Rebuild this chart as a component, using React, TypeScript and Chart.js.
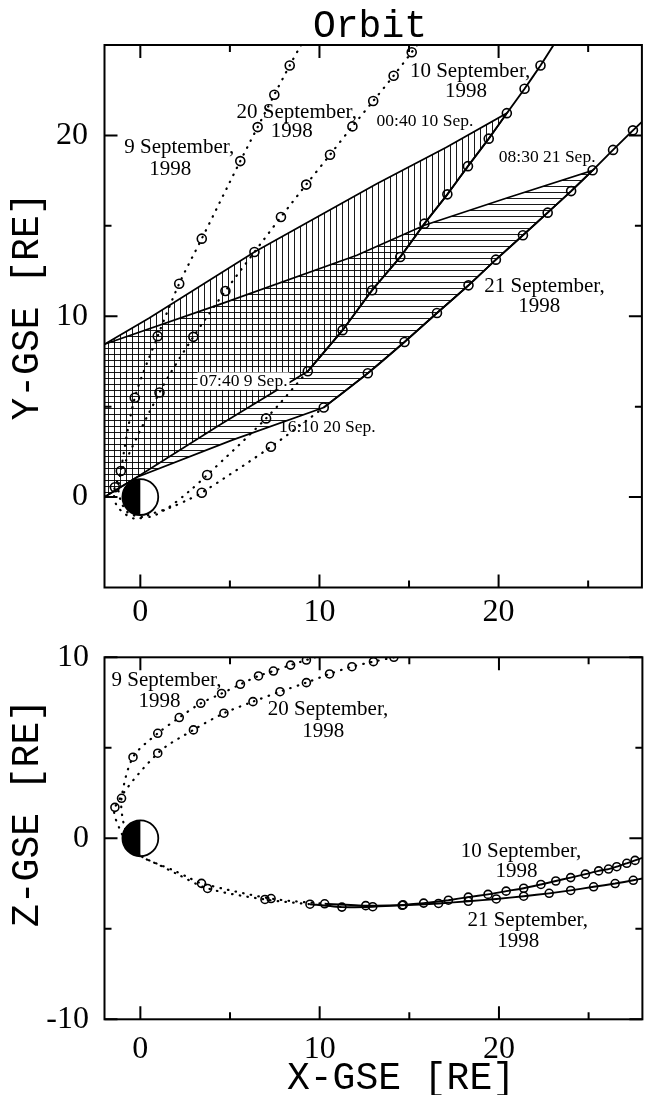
import React, { useEffect, useRef } from 'react';
import { Chart, registerables } from 'chart.js';

Chart.register(...registerables);

type Pt = { x: number; y: number };
type Label = { text: string; x: number; y: number; size: number; box?: boolean };

// ---------------- axes ----------------
const X_RANGE = [-2, 28];
const XY_Y_RANGE = [-5, 25];
const XZ_Z_RANGE = [-10, 10];
const X_MAJOR = [0, 10, 20];
const X_MINOR = [5, 15, 25];
const XY_Y_MAJOR = [0, 10, 20];
const XY_Y_MINOR = [5, 15];
const XZ_Z_MAJOR = [-10, 0, 10];
const XZ_Z_MINOR = [-5, 5];

// ---------------- X-Y panel (GSE, RE) ----------------
const sep9EdgeXY: Pt[] = [{ x: 8.97, y: 25.0 }];
const sep9InXY: Pt[] = [
  { x: 8.34, y: 23.87 }, { x: 7.48, y: 22.25 }, { x: 6.55, y: 20.46 }, { x: 5.58, y: 18.58 },
  { x: 3.43, y: 14.29 }, { x: 2.17, y: 11.8 }, { x: 0.97, y: 8.9 }, { x: -0.31, y: 5.49 },
  { x: -1.09, y: 1.44 },
];
const sep9PeriXY: Pt[] = [
  { x: -1.2, y: 0.2 }, { x: -0.7, y: -0.85 }, { x: 0.5, y: -1.1 }, { x: 1.6, y: -0.55 }, { x: 2.7, y: 0.3 },
];
const sep9OutXY: Pt[] = [{ x: 3.73, y: 1.22 }, { x: 7.02, y: 4.35 }];
const sep10XY: Pt[] = [
  { x: 9.35, y: 6.96 }, { x: 11.29, y: 9.23 }, { x: 12.94, y: 11.44 }, { x: 14.51, y: 13.28 },
  { x: 15.86, y: 15.12 }, { x: 17.14, y: 16.74 }, { x: 18.29, y: 18.3 }, { x: 19.45, y: 19.82 },
  { x: 20.46, y: 21.23 }, { x: 21.45, y: 22.58 }, { x: 22.34, y: 23.87 },
];
const sep10EdgeXY: Pt[] = [{ x: 23.07, y: 25.0 }];

const sep20EdgeXY: Pt[] = [{ x: 15.45, y: 25.0 }];
const sep20InXY: Pt[] = [
  { x: 15.15, y: 24.6 }, { x: 14.14, y: 23.3 }, { x: 13.0, y: 21.9 }, { x: 11.84, y: 20.5 },
  { x: 10.59, y: 18.93 }, { x: 9.26, y: 17.28 }, { x: 7.85, y: 15.49 }, { x: 6.37, y: 13.55 },
  { x: 4.75, y: 11.4 }, { x: 2.96, y: 8.86 }, { x: 1.07, y: 5.78 }, { x: -1.42, y: 0.54 },
];
const sep20PeriXY: Pt[] = [
  { x: -1.3, y: -0.5 }, { x: -0.3, y: -1.2 }, { x: 0.7, y: -0.9 }, { x: 1.7, y: -0.57 }, { x: 2.7, y: -0.13 },
];
const sep20OutXY: Pt[] = [{ x: 3.43, y: 0.24 }, { x: 7.29, y: 2.78 }];
const sep21XY: Pt[] = [
  { x: 10.24, y: 4.95 }, { x: 12.7, y: 6.85 }, { x: 14.75, y: 8.58 }, { x: 16.56, y: 10.18 },
  { x: 18.32, y: 11.71 }, { x: 19.85, y: 13.13 }, { x: 21.36, y: 14.48 }, { x: 22.74, y: 15.73 },
  { x: 24.05, y: 16.92 }, { x: 25.25, y: 18.07 }, { x: 26.39, y: 19.2 }, { x: 27.5, y: 20.28 },
];
const sep21EdgeXY: Pt[] = [{ x: 28.0, y: 20.75 }];

const regionAUpper: Pt[] = [
  { x: -2, y: 8.45 }, { x: 0.5, y: 9.9 }, { x: 6.37, y: 13.55 }, { x: 13.2, y: 17.33 }, { x: 17.09, y: 19.35 },
];
const regionALower: Pt[] = [{ x: 4.56, y: 4.07 }, { x: -0.2, y: 1.1 }, { x: -2, y: 0.0 }];
const regionBUpper: Pt[] = [
  { x: -2, y: 8.45 }, { x: 4.55, y: 10.7 }, { x: 12.09, y: 13.37 }, { x: 15.86, y: 15.03 }, { x: 20.5, y: 16.55 },
];
const regionBLower: Pt[] = [{ x: 5.12, y: 3.15 }, { x: -0.2, y: 1.1 }, { x: -2, y: 0.0 }];

// ---------------- X-Z panel ----------------
const sep9EdgeXZ: Pt[] = [{ x: 9.75, y: 10.0 }];
const sep9InXZ: Pt[] = [
  { x: 9.26, y: 9.85 }, { x: 8.38, y: 9.57 }, { x: 7.42, y: 9.24 }, { x: 6.59, y: 8.97 },
  { x: 5.58, y: 8.51 }, { x: 4.53, y: 8.0 }, { x: 3.37, y: 7.46 }, { x: 2.17, y: 6.67 },
  { x: 0.97, y: 5.8 }, { x: -0.41, y: 4.48 }, { x: -1.05, y: 2.21 },
];
const sep9PeriXZ: Pt[] = [
  { x: -0.95, y: 0.9 }, { x: -0.5, y: -0.4 }, { x: 0.15, y: -1.05 }, { x: 1.0, y: -1.45 }, { x: 2.0, y: -1.95 },
];
const sep9OutXZ: Pt[] = [{ x: 3.75, y: -2.77 }, { x: 6.95, y: -3.38 }];
const sep10XZ: Pt[] = [
  { x: 9.46, y: -3.64 }, { x: 11.24, y: -3.8 }, { x: 12.96, y: -3.78 }, { x: 14.66, y: -3.68 },
  { x: 15.8, y: -3.58 }, { x: 17.18, y: -3.42 }, { x: 18.29, y: -3.25 }, { x: 19.39, y: -3.1 },
  { x: 20.4, y: -2.92 }, { x: 21.38, y: -2.76 }, { x: 22.34, y: -2.55 }, { x: 23.17, y: -2.36 },
  { x: 24.0, y: -2.17 }, { x: 24.82, y: -1.98 }, { x: 25.56, y: -1.8 }, { x: 26.11, y: -1.7 },
  { x: 26.57, y: -1.57 }, { x: 27.13, y: -1.38 }, { x: 27.59, y: -1.22 },
];
const sep10EdgeXZ: Pt[] = [{ x: 28.0, y: -1.08 }];

const sep20InXZ: Pt[] = [
  { x: 14.14, y: 10.0 }, { x: 13.0, y: 9.76 }, { x: 11.8, y: 9.48 }, { x: 10.55, y: 9.08 },
  { x: 9.26, y: 8.6 }, { x: 7.79, y: 8.1 }, { x: 6.28, y: 7.55 }, { x: 4.66, y: 6.91 },
  { x: 2.96, y: 5.99 }, { x: 0.97, y: 4.7 }, { x: -1.42, y: 1.71 },
];
const sep20PeriXZ: Pt[] = [
  { x: -1.15, y: 0.5 }, { x: -0.55, y: -0.5 }, { x: 0.1, y: -1.02 }, { x: 0.9, y: -1.39 },
  { x: 1.82, y: -1.76 }, { x: 2.61, y: -2.13 },
];
const sep20OutXZ: Pt[] = [{ x: 3.41, y: -2.49 }, { x: 7.29, y: -3.33 }];
const sep21XZ: Pt[] = [
  { x: 10.28, y: -3.62 }, { x: 12.57, y: -3.72 }, { x: 14.6, y: -3.7 }, { x: 16.63, y: -3.6 },
  { x: 18.29, y: -3.48 }, { x: 19.85, y: -3.35 }, { x: 21.38, y: -3.2 }, { x: 22.8, y: -3.04 },
  { x: 24.0, y: -2.88 }, { x: 25.28, y: -2.68 }, { x: 26.48, y: -2.5 }, { x: 27.49, y: -2.32 },
];
const sep21EdgeXZ: Pt[] = [{ x: 28.0, y: -2.22 }];

// ---------------- annotations ----------------
const XY_LABELS: Label[] = [
  { text: '9 September,', x: 2.17, y: 19.01, size: 21 },
  { text: '1998', x: 1.67, y: 17.81, size: 21 },
  { text: '20 September,', x: 8.73, y: 20.95, size: 21 },
  { text: '1998', x: 8.45, y: 19.89, size: 21 },
  { text: '10 September,', x: 18.41, y: 23.25, size: 21 },
  { text: '1998', x: 18.18, y: 22.14, size: 21 },
  { text: '00:40 10 Sep.', x: 15.89, y: 20.52, size: 17.5 },
  { text: '08:30 21 Sep.', x: 22.71, y: 18.55, size: 17.5 },
  { text: '21 September,', x: 22.56, y: 11.36, size: 21 },
  { text: '1998', x: 22.27, y: 10.25, size: 21 },
  { text: '07:40 9 Sep.', x: 5.76, y: 6.14, size: 17.5, box: true },
  { text: '16:10 20 Sep.', x: 10.44, y: 3.61, size: 17.5 },
];
const XZ_LABELS: Label[] = [
  { text: '9 September,', x: 1.46, y: 8.41, size: 21 },
  { text: '1998', x: 1.07, y: 7.24, size: 21 },
  { text: '20 September,', x: 10.47, y: 6.81, size: 21 },
  { text: '1998', x: 10.2, y: 5.61, size: 21 },
  { text: '10 September,', x: 21.23, y: -1.05, size: 21 },
  { text: '1998', x: 20.98, y: -2.15, size: 21 },
  { text: '21 September,', x: 21.6, y: -4.85, size: 21 },
  { text: '1998', x: 21.08, y: -5.99, size: 21 },
];

const TITLE = 'Orbit';
const Y_TITLE = 'Y-GSE [RE]';
const Z_TITLE = 'Z-GSE [RE]';
const X_TITLE = 'X-GSE [RE]';

// ---------------- styling helpers ----------------
const SERIF = '"Liberation Serif", "Times New Roman", serif';
const MONO = '"Liberation Mono", "Courier New", monospace';
const TICK_FONT = { family: SERIF, size: 32, lineHeight: 1 };

function makePattern(canvas: HTMLCanvasElement, dir: 'v' | 'h') {
  const c = document.createElement('canvas');
  c.width = 6;
  c.height = 6;
  const g = c.getContext('2d')!;
  g.fillStyle = 'rgba(0,0,0,0.9)';
  if (dir === 'v') g.fillRect(0, 0, 1, 6);
  else g.fillRect(0, 0, 6, 1);
  return canvas.getContext('2d')!.createPattern(c, 'repeat')!;
}

const dotted = (data: Pt[]) => ({
  data, borderColor: '#000', borderWidth: 2.2, borderDash: [0.5, 7.2], borderCapStyle: 'round',
  pointRadius: 0, tension: 0.3, fill: false,
});
const solid = (data: Pt[]) => ({
  data, borderColor: '#000', borderWidth: 1.9, pointRadius: 0, tension: 0.15, fill: false,
});
const marks = (data: Pt[], r: number) => ({
  data, showLine: false, pointRadius: r, pointHoverRadius: r, pointBorderWidth: 1.6,
  pointBorderColor: '#000', pointBackgroundColor: 'rgba(0,0,0,0)',
});
const region = (data: Pt[], pattern: CanvasPattern) => ({
  data, borderColor: '#000', borderWidth: 1.7, backgroundColor: pattern, fill: 'shape',
  pointRadius: 0, tension: 0,
});

const earthPlugin = {
  id: 'earth',
  afterDatasetsDraw(chart: any) {
    const { ctx, scales } = chart;
    const cx = scales.x.getPixelForValue(0);
    const cy = scales.y.getPixelForValue(0);
    const r = scales.x.getPixelForValue(1) - cx;
    ctx.save();
    ctx.beginPath();
    ctx.arc(cx, cy, r, -Math.PI / 2, Math.PI / 2);
    ctx.closePath();
    ctx.fillStyle = '#fff';
    ctx.fill();
    ctx.beginPath();
    ctx.arc(cx, cy, r, Math.PI / 2, (3 * Math.PI) / 2);
    ctx.closePath();
    ctx.fillStyle = '#000';
    ctx.fill();
    ctx.beginPath();
    ctx.arc(cx, cy, r, 0, Math.PI * 2);
    ctx.lineWidth = 1.8;
    ctx.strokeStyle = '#000';
    ctx.stroke();
    ctx.restore();
  },
};

const labelPlugin = (items: Label[]) => ({
  id: 'labels',
  afterDatasetsDraw(chart: any) {
    const { ctx, scales } = chart;
    ctx.save();
    ctx.textAlign = 'center';
    ctx.textBaseline = 'alphabetic';
    for (const it of items) {
      ctx.font = `${it.size}px ${SERIF}`;
      const px = scales.x.getPixelForValue(it.x);
      const py = scales.y.getPixelForValue(it.y);
      if (it.box) {
        const w = ctx.measureText(it.text).width;
        ctx.fillStyle = '#fff';
        ctx.fillRect(px - w / 2 - 2, py - it.size * 0.78, w + 4, it.size * 1.0);
      }
      ctx.fillStyle = '#000';
      ctx.fillText(it.text, px, py);
    }
    ctx.restore();
  },
});

const framePlugin = (xMaj: number[], xMin: number[], yMaj: number[], yMin: number[]) => ({
  id: 'frame',
  afterDraw(chart: any) {
    const { ctx, chartArea: a, scales } = chart;
    ctx.save();
    ctx.strokeStyle = '#000';
    ctx.lineWidth = 2;
    ctx.strokeRect(a.left, a.top, a.right - a.left, a.bottom - a.top);
    ctx.beginPath();
    const tx = (v: number, len: number) => {
      const p = scales.x.getPixelForValue(v);
      ctx.moveTo(p, a.bottom); ctx.lineTo(p, a.bottom - len);
      ctx.moveTo(p, a.top); ctx.lineTo(p, a.top + len);
    };
    const ty = (v: number, len: number) => {
      const p = scales.y.getPixelForValue(v);
      ctx.moveTo(a.left, p); ctx.lineTo(a.left + len, p);
      ctx.moveTo(a.right, p); ctx.lineTo(a.right - len, p);
    };
    xMaj.forEach((v) => tx(v, 13));
    xMin.forEach((v) => tx(v, 7));
    yMaj.forEach((v) => ty(v, 13));
    yMin.forEach((v) => ty(v, 7));
    ctx.stroke();
    ctx.restore();
  },
});

type TextItem = { text: string; x: number; y: number; rot?: boolean; base?: string };
const titlePlugin = (items: TextItem[]) => ({
  id: 'titles',
  afterDraw(chart: any) {
    const { ctx } = chart;
    ctx.save();
    ctx.font = `38px ${MONO}`;
    ctx.fillStyle = '#000';
    ctx.textAlign = 'center';
    for (const t of items) {
      ctx.save();
      ctx.textBaseline = t.base || 'middle';
      ctx.translate(t.x, t.y);
      if (t.rot) ctx.rotate(-Math.PI / 2);
      ctx.fillText(t.text, 0, 0);
      ctx.restore();
    }
    ctx.restore();
  },
});

function options(o: {
  yRange: number[]; yMajor: number[]; padTop: number; xAxisH: number; xPad: number; yPad: number;
}) {
  return {
    responsive: false,
    animation: false,
    events: [],
    layout: { padding: { top: o.padTop, right: 0.5, left: 0, bottom: 0 } },
    plugins: {
      legend: { display: false },
      tooltip: { enabled: false },
      title: { display: false },
      filler: { drawTime: 'beforeDatasetsDraw' },
    },
    scales: {
      x: {
        type: 'linear', min: X_RANGE[0], max: X_RANGE[1],
        grid: { display: false }, border: { display: false },
        afterBuildTicks: (s: any) => { s.ticks = X_MAJOR.map((v) => ({ value: v })); },
        afterFit: (s: any) => { s.height = o.xAxisH; },
        ticks: { font: TICK_FONT, color: '#000', padding: o.xPad, maxRotation: 0, autoSkip: false, callback: (v: any) => String(v) },
      },
      y: {
        type: 'linear', min: o.yRange[0], max: o.yRange[1],
        grid: { display: false }, border: { display: false },
        afterBuildTicks: (s: any) => { s.ticks = o.yMajor.map((v) => ({ value: v })); },
        afterFit: (s: any) => { s.width = 104.5; },
        ticks: { font: TICK_FONT, color: '#000', padding: o.yPad, autoSkip: false, callback: (v: any) => String(v) },
      },
    },
  };
}

export default function App() {
  const topRef = useRef<HTMLCanvasElement>(null);
  const botRef = useRef<HTMLCanvasElement>(null);

  useEffect(() => {
    const c1 = topRef.current!;
    const c2 = botRef.current!;
    const patV = makePattern(c1, 'v');
    const patH = makePattern(c1, 'h');

    const polyA = [...regionAUpper, ...sep10XY.slice(0, 9).reverse(), ...regionALower];
    const polyB = [...regionBUpper, ...sep21XY.slice(0, 10).reverse(), ...regionBLower];

    const chart1 = new Chart(c1, {
      type: 'line',
      data: {
        datasets: [
          region(polyA, patV),
          region(polyB, patH),
          dotted([...sep9EdgeXY, ...sep9InXY, ...sep9PeriXY, ...sep9OutXY, sep10XY[0]]),
          dotted([...sep20EdgeXY, ...sep20InXY, ...sep20PeriXY, ...sep20OutXY, sep21XY[0]]),
          solid([...sep10XY, ...sep10EdgeXY]),
          solid([...sep21XY, ...sep21EdgeXY]),
          marks(sep9InXY, 4.5),
          marks(sep9OutXY, 4.5),
          marks(sep10XY, 4.5),
          marks(sep20InXY, 4.5),
          marks(sep20OutXY, 4.5),
          marks(sep21XY, 4.5),
        ] as any,
      },
      options: options({ yRange: XY_Y_RANGE, yMajor: XY_Y_MAJOR, padTop: 45, xAxisH: 42.5, xPad: 1, yPad: 8.5 }) as any,
      plugins: [
        earthPlugin,
        labelPlugin(XY_LABELS),
        framePlugin(X_MAJOR, X_MINOR, XY_Y_MAJOR, XY_Y_MINOR),
        titlePlugin([
          { text: TITLE, x: 370, y: 26.5 },
          { text: Y_TITLE, x: 28, y: 306.5, rot: true },
        ]),
      ],
    });

    const chart2 = new Chart(c2, {
      type: 'line',
      data: {
        datasets: [
          dotted([...sep9EdgeXZ, ...sep9InXZ, ...sep9PeriXZ, ...sep9OutXZ, sep10XZ[0]]),
          dotted([...sep20InXZ, ...sep20PeriXZ, ...sep20OutXZ, sep21XZ[0]]),
          solid([...sep10XZ, ...sep10EdgeXZ]),
          solid([...sep21XZ, ...sep21EdgeXZ]),
          marks(sep9InXZ, 4),
          marks(sep9OutXZ, 4),
          marks(sep10XZ, 4),
          marks(sep20InXZ, 4),
          marks(sep20OutXZ, 4),
          marks(sep21XZ, 4),
        ] as any,
      },
      options: options({ yRange: XZ_Z_RANGE, yMajor: XZ_Z_MAJOR, padTop: 27.3, xAxisH: 75.7, xPad: 6, yPad: 7.5 }) as any,
      plugins: [
        earthPlugin,
        labelPlugin(XZ_LABELS),
        framePlugin(X_MAJOR, X_MINOR, XZ_Z_MAJOR, XZ_Z_MINOR),
        titlePlugin([
          { text: Z_TITLE, x: 28, y: 183, rot: true },
          { text: X_TITLE, x: 401, y: 459, base: 'alphabetic' },
        ]),
      ],
    });

    return () => {
      chart1.destroy();
      chart2.destroy();
    };
  }, []);

  return (
    <div style={{ position: 'absolute', left: 0, top: 0, width: 648, height: 1095, background: '#fff' }}>
      <canvas ref={topRef} width={648} height={630} style={{ display: 'block', width: 648, height: 630 }} />
      <canvas ref={botRef} width={648} height={465} style={{ display: 'block', width: 648, height: 465 }} />
    </div>
  );
}
